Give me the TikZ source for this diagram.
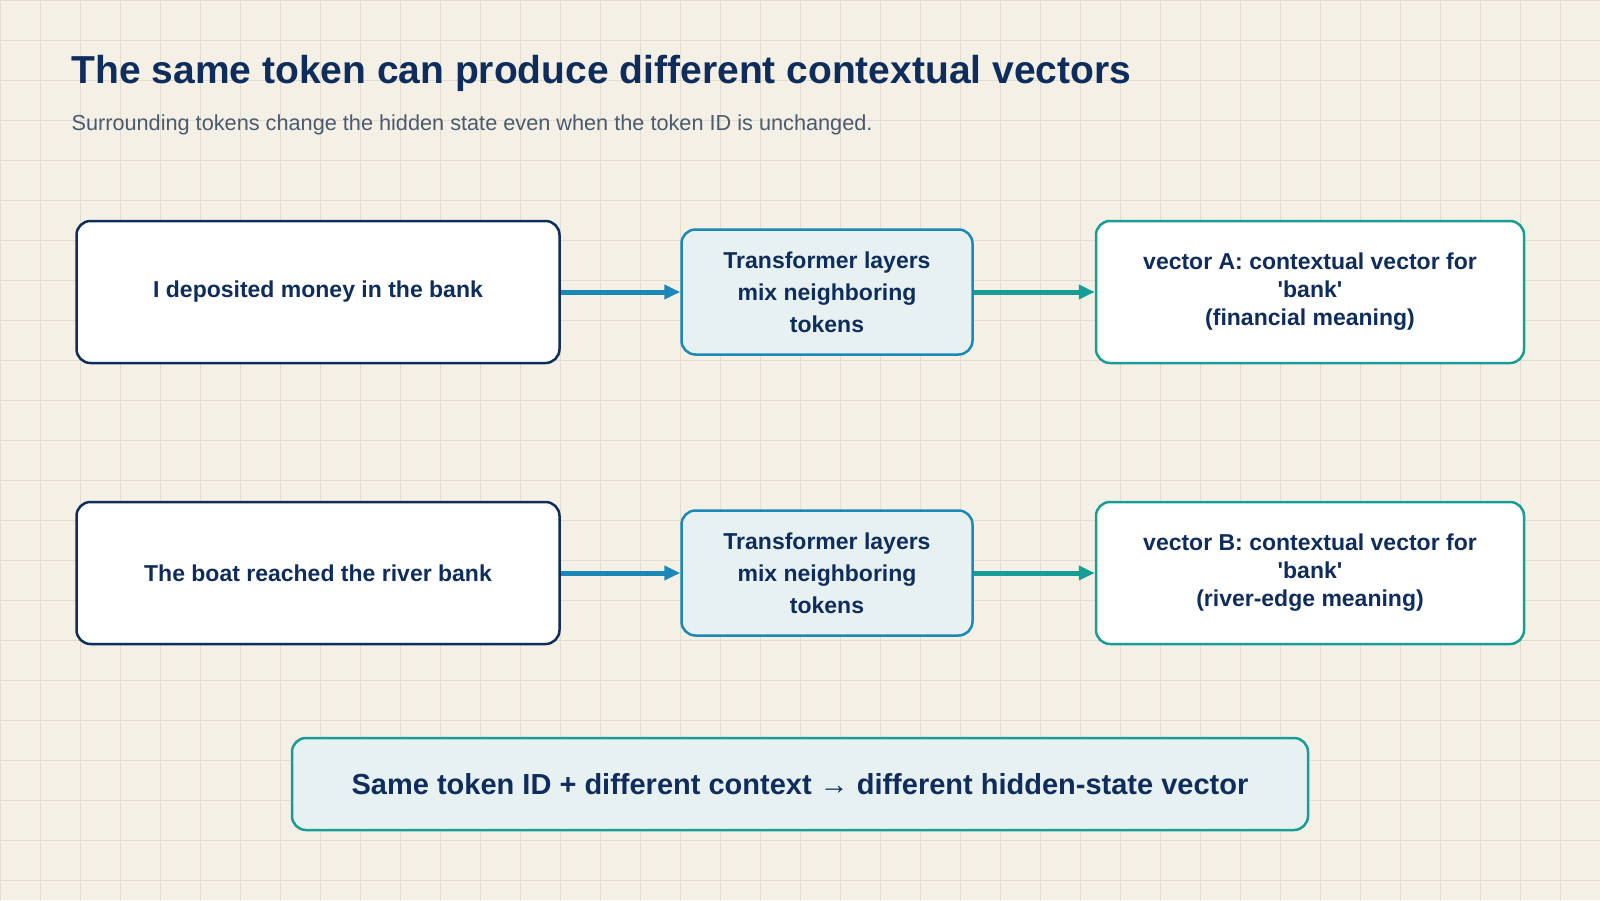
\documentclass[tikz,border=0pt]{standalone}
\usepackage{fontspec}
\setmainfont{Liberation Sans}[Ligatures=TeXOff]
\usetikzlibrary{arrows.meta}
\definecolor{navy}{HTML}{0F2D5C}
\definecolor{bluel}{HTML}{1B88B8}
\definecolor{teal}{HTML}{189C96}
\definecolor{lfill}{HTML}{E7F1F2}
\definecolor{bg}{HTML}{F5F0E5}
\definecolor{gridc}{HTML}{E3DDD0}
\definecolor{sub}{HTML}{4A5A6E}
\begin{document}
\begin{tikzpicture}[x=1pt,y=-1pt,
  box/.style={rounded corners=14pt,line width=2.5pt,fill=white,text=navy,font=\fontsize{23}{32}\selectfont\bfseries,align=center},
  src/.style={box,draw=navy},
  mid/.style={box,draw=bluel,fill=lfill},
  dst/.style={box,draw=teal},
  arr/.style={line width=5pt,-{Triangle[length=16pt,width=14pt]}}]
\fill[bg] (0,0) rectangle (1600,900);
\useasboundingbox (0,0) rectangle (1600,900);
\foreach \i in {0,40,...,1600} \draw[gridc,line width=1pt] (\i,0) -- (\i,900);
\foreach \j in {0,40,...,900} \draw[gridc,line width=1pt] (0,\j) -- (1600,\j);
\node[anchor=west,text=navy,font=\fontsize{39}{44}\selectfont\bfseries] (title) at (68,73) {The same token can produce different contextual vectors};
\node[anchor=west,text=sub,font=\fontsize{21.7}{26}\selectfont] (subtitle) at (68,125) {Surrounding tokens change the hidden state even when the token ID is unchanged.};
\node[src,minimum width=483pt,minimum height=142pt] (s1) at (318,292) {I deposited money in the bank};
\node[mid,minimum width=291pt,minimum height=125pt] (m1) at (827,292) {Transformer layers\\mix neighboring\\tokens};
\node[dst,minimum width=428pt,minimum height=142pt] (d1) at (1310,292) {vector A: contextual vector for\\[-4pt]'bank'\\[-4pt](financial meaning)};
\node[src,minimum width=483pt,minimum height=142pt] (s2) at (318,573) {The boat reached the river bank};
\node[mid,minimum width=291pt,minimum height=125pt] (m2) at (827,573) {Transformer layers\\mix neighboring\\tokens};
\node[dst,minimum width=428pt,minimum height=142pt] (d2) at (1310,573) {vector B: contextual vector for\\[-4pt]'bank'\\[-4pt](river-edge meaning)};
\node[box,draw=teal,fill=lfill,minimum width=1016pt,minimum height=92pt,font=\fontsize{29}{34}\selectfont\bfseries] (sum) at (800,784) {Same token ID + different context → different hidden-state vector};
\draw[arr,bluel] (s1) -- (m1);
\draw[arr,teal] (m1) -- (d1);
\draw[arr,bluel] (s2) -- (m2);
\draw[arr,teal] (m2) -- (d2);
\end{tikzpicture}
\end{document}
